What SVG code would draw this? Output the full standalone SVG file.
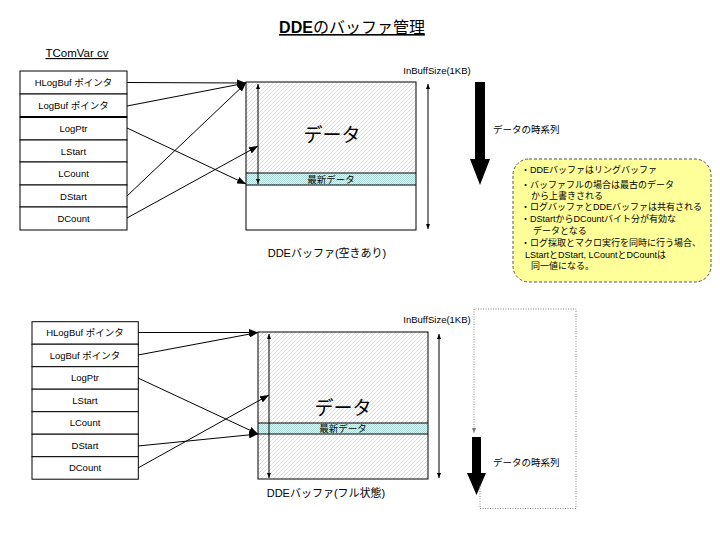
<svg xmlns="http://www.w3.org/2000/svg" width="720" height="540" viewBox="0 0 720 540">
<style>
text{font-family:"Liberation Sans","Noto Sans CJK JP",sans-serif;fill:#000}
.cell{fill:#fff;stroke:#000;stroke-width:1}
.t{font-size:9.5px;text-anchor:middle}
.c{stroke:#000;stroke-width:1;fill:none;marker-end:url(#ah)}
.dim{stroke:#000;stroke-width:1;fill:none;marker-start:url(#sa);marker-end:url(#sa)}
.note{font-size:9px}
</style>
<defs>
<pattern id="hatch" patternUnits="userSpaceOnUse" width="4" height="4">
<rect width="4" height="4" fill="#fff"/>
<path d="M0,4 L4,0 M-1,1 L1,-1 M3,5 L5,3" stroke="#8cc8c8" stroke-width="0.5"/>
</pattern>
<pattern id="dots" patternUnits="userSpaceOnUse" width="2" height="2">
<rect width="2" height="2" fill="#e6ffff"/>
<rect width="1" height="1" fill="#a6d6d6"/>
<rect x="1" y="1" width="1" height="1" fill="#a6d6d6"/>
</pattern>
<marker id="ah" markerUnits="userSpaceOnUse" markerWidth="9" markerHeight="7" refX="9" refY="3.5" orient="auto">
<path d="M0,0 L9,3.5 L0,7 z" fill="#000"/>
</marker>
<marker id="sa" markerUnits="userSpaceOnUse" markerWidth="5" markerHeight="4" refX="5" refY="2" orient="auto-start-reverse">
<path d="M0,0 L5,2 L0,4 z" fill="#000"/>
</marker>
<marker id="ga" markerUnits="userSpaceOnUse" markerWidth="5" markerHeight="4" refX="5" refY="2" orient="auto">
<path d="M0,0 L5,2 L0,4 z" fill="#777"/>
</marker>
</defs>
<rect width="720" height="540" fill="#fff"/>

<g id="title">
<text x="352" y="33" font-size="16" text-anchor="middle" text-decoration="underline"><tspan font-weight="bold">DDE</tspan>のバッファ管理</text>
</g>

<!-- Top section -->
<g id="top-table">
<text x="77" y="57" font-size="11.5" text-anchor="middle" text-decoration="underline">TComVar cv</text>
<g id="t-hlogbuf"><rect class="cell" x="20" y="71" width="107" height="23"/><text class="t" x="73.5" y="86">HLogBuf ポインタ</text></g>
<g id="t-logbuf"><rect class="cell" x="20" y="94" width="107" height="23"/><text class="t" x="73.5" y="109">LogBuf ポインタ</text></g>
<g id="t-logptr"><rect class="cell" x="20" y="117" width="107" height="23"/><text class="t" x="73.5" y="132">LogPtr</text></g>
<g id="t-lstart"><rect class="cell" x="20" y="140" width="107" height="22"/><text class="t" x="73.5" y="155">LStart</text></g>
<g id="t-lcount"><rect class="cell" x="20" y="162" width="107" height="23"/><text class="t" x="73.5" y="177">LCount</text></g>
<g id="t-dstart"><rect class="cell" x="20" y="185" width="107" height="22"/><text class="t" x="73.5" y="200">DStart</text></g>
<g id="t-dcount"><rect class="cell" x="20" y="207" width="107" height="23"/><text class="t" x="73.5" y="222">DCount</text></g>
<line x1="20" y1="117" x2="127" y2="117" stroke="#000" stroke-width="2"/>
</g>

<g id="top-buffer">
<rect x="246" y="82" width="170" height="91" fill="url(#hatch)"/>
<rect x="246" y="173" width="170" height="12" fill="url(#dots)"/>
<rect x="246" y="82" width="170" height="148" fill="none" stroke="#000"/>
<line x1="246" y1="173" x2="416" y2="173" stroke="#000"/>
<line x1="246" y1="185" x2="416" y2="185" stroke="#000"/>
<text x="332" y="142" font-size="19" text-anchor="middle">データ</text>
<text x="331" y="183" font-size="9.5" text-anchor="middle">最新データ</text>
<line class="dim" x1="258" y1="84" x2="258" y2="184"/>
<line class="dim" x1="428" y1="84" x2="428" y2="229"/>
<text x="437" y="74" font-size="9.5" text-anchor="middle">InBuffSize(1KB)</text>
<text x="327" y="257" font-size="11" text-anchor="middle">DDEバッファ(空きあり)</text>
</g>

<g id="top-time-arrow">
<path d="M475,82 L485,82 L485,159 L490,159 L480,185 L470,159 L475,159 z" fill="#000"/>
<text x="493" y="133" font-size="9.5">データの時系列</text>
</g>

<g id="note">
<rect x="513" y="159" width="198" height="123" rx="16" ry="16" fill="#ffff99" stroke="#555" stroke-width="1" stroke-dasharray="3,2"/>
<text class="note" x="521" y="173">・DDEバッファはリングバッファ</text>
<text class="note" x="521" y="188">・バッファフルの場合は最古のデータ</text>
<text class="note" x="531" y="199">から上書きされる</text>
<text class="note" x="521" y="210">・ログバッファとDDEバッファは共有される</text>
<text class="note" x="521" y="222">・DStartからDCountバイト分が有効な</text>
<text class="note" x="533" y="234">データとなる</text>
<text class="note" x="521" y="246">・ログ採取とマクロ実行を同時に行う場合、</text>
<text class="note" x="525" y="258">LStartとDStart, LCountとDCountは</text>
<text class="note" x="531" y="269">同一値になる。</text>
</g>

<!-- Bottom section -->
<g id="bottom-table">
<g id="b-hlogbuf"><rect class="cell" x="32" y="321.7" width="106.3" height="22.5"/><text class="t" x="85" y="336">HLogBuf ポインタ</text></g>
<g id="b-logbuf"><rect class="cell" x="32" y="344.2" width="106.3" height="22.5"/><text class="t" x="85" y="359">LogBuf ポインタ</text></g>
<g id="b-logptr"><rect class="cell" x="32" y="366.7" width="106.3" height="22.5"/><text class="t" x="85" y="381">LogPtr</text></g>
<g id="b-lstart"><rect class="cell" x="32" y="389.2" width="106.3" height="22.5"/><text class="t" x="85" y="404">LStart</text></g>
<g id="b-lcount"><rect class="cell" x="32" y="411.7" width="106.3" height="22.5"/><text class="t" x="85" y="426">LCount</text></g>
<g id="b-dstart"><rect class="cell" x="32" y="434.2" width="106.3" height="22.5"/><text class="t" x="85" y="449">DStart</text></g>
<g id="b-dcount"><rect class="cell" x="32" y="456.7" width="106.3" height="22.5"/><text class="t" x="85" y="471">DCount</text></g>
</g>

<g id="bottom-buffer">
<rect x="258" y="332" width="170" height="147" fill="url(#hatch)"/>
<rect x="258" y="423" width="170" height="11" fill="url(#dots)"/>
<rect x="258" y="332" width="170" height="147" fill="none" stroke="#000"/>
<line x1="258" y1="423" x2="428" y2="423" stroke="#000"/>
<line x1="258" y1="434" x2="428" y2="434" stroke="#000"/>
<text x="343" y="415" font-size="19" text-anchor="middle">データ</text>
<text x="343" y="432" font-size="9.5" text-anchor="middle">最新データ</text>
<line class="dim" x1="269" y1="334" x2="269" y2="478"/>
<line class="dim" x1="439" y1="334" x2="439" y2="478"/>
<text x="437" y="323" font-size="9.5" text-anchor="middle">InBuffSize(1KB)</text>
<text x="326" y="497" font-size="11" text-anchor="middle">DDEバッファ(フル状態)</text>
</g>

<g id="bottom-time-arrow">
<path d="M472,437 L481,437 L481,473 L486,473 L476.5,495 L467,473 L472,473 z" fill="#000"/>
<text x="493" y="466" font-size="9.5">データの時系列</text>
</g>

<g id="connectors">
<line class="c" x1="127" y1="82.5" x2="246" y2="83"/>
<line class="c" x1="127" y1="106" x2="246" y2="83"/>
<line class="c" x1="127" y1="128" x2="246" y2="184"/>
<line class="c" x1="127" y1="196" x2="246" y2="83"/>
<line class="c" x1="127" y1="218" x2="258" y2="146"/>
<line class="c" x1="138" y1="332.5" x2="258" y2="332.5"/>
<line class="c" x1="138" y1="355" x2="258" y2="332.5"/>
<line class="c" x1="138" y1="378" x2="258" y2="434"/>
<line class="c" x1="138" y1="446" x2="258" y2="434"/>
<line class="c" x1="138" y1="468" x2="269" y2="395"/>
<path d="M480,486 L480,508.5 L576,508.5 L576,309 L474,309 L474,433" fill="none" stroke="#888" stroke-width="1" stroke-dasharray="1,1.5" marker-end="url(#ga)"/>
</g>
</svg>
